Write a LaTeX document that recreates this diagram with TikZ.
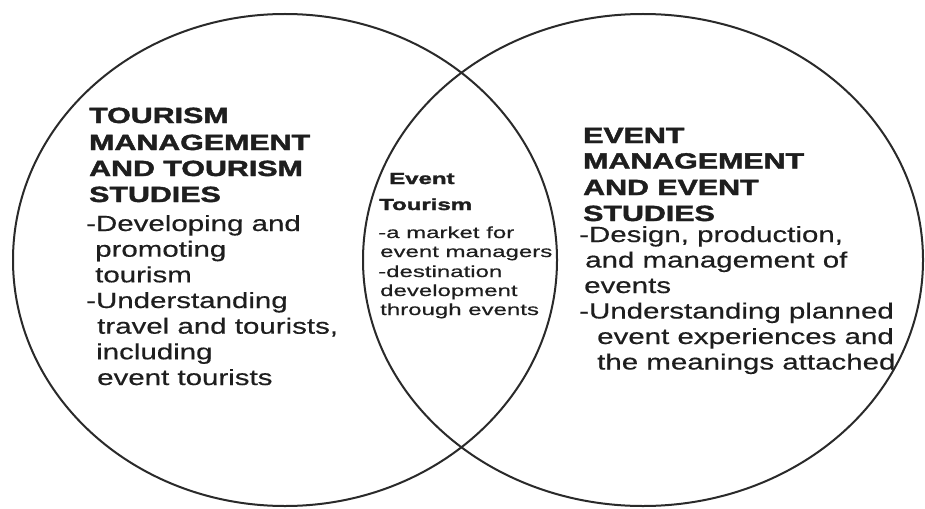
\documentclass[tikz,border=0pt]{standalone}
\usepackage{fontspec}
\setmainfont{Liberation Sans}[BoldFont={Liberation Sans Bold}, UprightFeatures={FakeBold=0.4}, BoldFeatures={FakeBold=1.6}]
\usetikzlibrary{shapes.geometric}
\definecolor{ink}{HTML}{1E1E1E}
\definecolor{edge}{HTML}{2A2A2A}
\newcommand\widebox[2]{\scalebox{#1}[1]{#2}}
\tikzset{
  venn/.style={draw=edge, line width=2pt, ellipse, inner sep=0pt, fill=none},
  ttl/.style={anchor=base west, inner sep=0pt, text=ink, font=\fontsize{22}{26}\selectfont\bfseries},
  txt/.style={anchor=base west, inner sep=0pt, text=ink, font=\fontsize{22}{26}\selectfont},
  cttl/.style={anchor=base west, inner sep=0pt, text=ink, font=\fontsize{16}{19}\selectfont\bfseries},
  ctxt/.style={anchor=base west, inner sep=0pt, text=ink, font=\fontsize{16}{19}\selectfont},
}
\newcommand\T[1]{\widebox{1.38}{\textbf{#1}}}
\newcommand\B[1]{\widebox{1.34}{#1}}
\newcommand\CT[1]{\widebox{1.5}{\textbf{#1}}}
\newcommand\C[1]{\widebox{1.5}{#1}}
\begin{document}
\begin{tikzpicture}[x=1pt,y=-1pt]
\useasboundingbox (0,0) rectangle (925,508);
\fill[white] (0,0) rectangle (925,508);
% circles
\node[venn, minimum width=544pt, minimum height=492pt] (L) at (285,260) {};
\node[venn, minimum width=560pt, minimum height=492pt] (R) at (643,260) {};
% left block
\node[ttl] (l1) at (89,123) {\T{TOURISM}};
\node[ttl] (l2) at (89,150) {\T{MANAGEMENT}};
\node[ttl] (l3) at (89,176) {\T{AND TOURISM}};
\node[ttl] (l4) at (89,202) {\T{STUDIES}};
\node[txt] (l5) at (86,231) {\B{-Developing and}};
\node[txt] (l6) at (95,256.7) {\B{promoting}};
\node[txt] (l7) at (95,282.3) {\B{tourism}};
\node[txt] (l8) at (86,308) {\B{-Understanding}};
\node[txt] (l9) at (97,333.7) {\B{travel and tourists,}};
\node[txt] (l10) at (96,359.3) {\B{including}};
\node[txt] (l11) at (97,385) {\B{event tourists}};
% centre block
\node[cttl] (c1) at (389,184) {\CT{Event}};
\node[cttl] (c2) at (379,210) {\CT{Tourism}};
\node[ctxt] (c3) at (378,238) {\C{-a market for}};
\node[ctxt] (c4) at (380,257) {\C{event managers}};
\node[ctxt] (c5) at (378,277) {\C{-destination}};
\node[ctxt] (c6) at (380,296) {\C{development}};
\node[ctxt] (c7) at (380,315) {\C{through events}};
% right block
\node[ttl] (r1) at (583,143) {\T{EVENT}};
\node[ttl] (r2) at (583,168.5) {\T{MANAGEMENT}};
\node[ttl] (r3) at (583,195) {\T{AND EVENT}};
\node[ttl] (r4) at (583,221) {\T{STUDIES}};
\node[txt] (r5) at (579,242) {\B{-Design, production,}};
\node[txt] (r6) at (585,267.5) {\B{and management of}};
\node[txt] (r7) at (584,293) {\B{events}};
\node[txt] (r8) at (579,318.5) {\B{-Understanding planned}};
\node[txt] (r9) at (597,344) {\B{event experiences and}};
\node[txt] (r10) at (597,369.5) {\B{the meanings attached}};
\end{tikzpicture}
\end{document}
